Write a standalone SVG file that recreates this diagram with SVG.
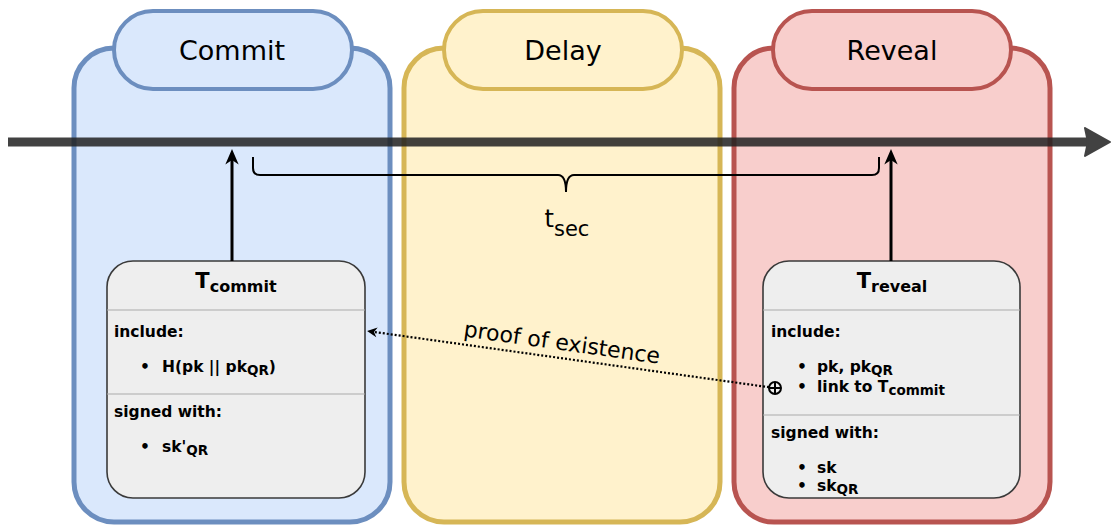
<svg xmlns="http://www.w3.org/2000/svg" width="1111" height="529" viewBox="0 0 1111 529">
  <style>
    text { font-family: "DejaVu Sans", Verdana, sans-serif; fill: #000; }
    .phase { stroke-width: 5; }
    .pill { stroke-width: 4; }
    .pillLabel { font-size: 27px; text-anchor: middle; }
    .box { fill: #eeeeee; stroke: #3a3a3a; stroke-width: 1.6; }
    .divider { stroke: #a9a9a9; stroke-width: 1.2; }
    .b { font-weight: bold; font-size: 15.5px; }
    .sub { font-size: 13.5px; }
    .title { font-weight: bold; font-size: 21px; text-anchor: middle; }
    .commit { fill: #dae8fc; stroke: #6c8ebf; }
    .delay { fill: #fff2cc; stroke: #d6b656; }
    .reveal { fill: #f8cecc; stroke: #b85450; }
  </style>
  <defs>
    <marker id="solidHead" markerUnits="userSpaceOnUse" markerWidth="20" markerHeight="20" viewBox="-16 -8 18 16" refX="-10" refY="0" orient="auto">
      <path d="M0,0 L-14,-6 L-10,0 L-14,6 Z" fill="#000"/>
    </marker>
    <marker id="dotHead" markerUnits="userSpaceOnUse" markerWidth="14" markerHeight="14" viewBox="-12 -6 14 12" refX="-8" refY="0" orient="auto">
      <path d="M0,0 L-10,-5 L-7,0 L-10,5 Z" fill="#000"/>
    </marker>
  </defs>

  <!-- phase: commit -->
  <g id="phase-commit">
    <rect class="phase commit" x="74" y="48" width="316" height="474" rx="40"/>
    <rect class="pill commit" x="114" y="11" width="238" height="78" rx="39"/>
    <text class="pillLabel" x="232" y="60">Commit</text>
  </g>

  <!-- phase: delay -->
  <g id="phase-delay">
    <rect class="phase delay" x="404" y="48" width="316" height="474" rx="40"/>
    <rect class="pill delay" x="444" y="11" width="238" height="78" rx="39"/>
    <text class="pillLabel" x="563" y="60">Delay</text>
  </g>

  <!-- phase: reveal -->
  <g id="phase-reveal">
    <rect class="phase reveal" x="734" y="48" width="316" height="474" rx="40"/>
    <rect class="pill reveal" x="773" y="11" width="238" height="78" rx="39"/>
    <text class="pillLabel" x="892" y="60">Reveal</text>
  </g>

  <!-- transaction T_commit -->
  <g id="tx-commit">
    <rect class="box" x="107" y="261" width="258" height="237" rx="26"/>
    <line class="divider" x1="107" y1="310" x2="365" y2="310"/>
    <line class="divider" x1="107" y1="394" x2="365" y2="394"/>
    <text class="title" x="236" y="288">T<tspan font-size="16px" dy="4">commit</tspan></text>
    <text class="b" x="114" y="337">include:</text>
    <text class="b" x="140" y="372">•</text>
    <text class="b" x="162" y="372">H(pk || pk<tspan class="sub" dy="3">QR</tspan><tspan dy="-3">)</tspan></text>
    <text class="b" x="114" y="417">signed with:</text>
    <text class="b" x="140" y="452">•</text>
    <text class="b" x="162" y="452">sk'<tspan class="sub" dy="3">QR</tspan></text>
  </g>

  <!-- transaction T_reveal -->
  <g id="tx-reveal">
    <rect class="box" x="763" y="261" width="257" height="237" rx="26"/>
    <line class="divider" x1="763" y1="310" x2="1020" y2="310"/>
    <line class="divider" x1="763" y1="415" x2="1020" y2="415"/>
    <text class="title" x="892" y="288">T<tspan font-size="16px" dy="4">reveal</tspan></text>
    <text class="b" x="771" y="337">include:</text>
    <text class="b" x="797" y="372">•</text>
    <text class="b" x="817" y="372">pk, pk<tspan class="sub" dy="3">QR</tspan></text>
    <text class="b" x="797" y="392">•</text>
    <text class="b" x="817" y="392">link to T<tspan class="sub" dy="3">commit</tspan></text>
    <text class="b" x="771" y="438">signed with:</text>
    <text class="b" x="797" y="473">•</text>
    <text class="b" x="817" y="473">sk</text>
    <text class="b" x="797" y="491">•</text>
    <text class="b" x="817" y="491">sk<tspan class="sub" dy="3">QR</tspan></text>
  </g>

  <!-- connectors -->
  <g id="connectors">
    <!-- timeline -->
    <g opacity="0.85">
      <line x1="8" y1="142" x2="1092" y2="142" stroke="#222" stroke-width="9"/>
      <path d="M1110,142 L1085,128 L1088,142 L1085,156 Z" fill="#222" stroke="#222" stroke-width="2" stroke-linejoin="round"/>
    </g>
    <!-- transactions anchored on the timeline -->
    <line x1="232" y1="261" x2="232" y2="160" stroke="#000" stroke-width="3" marker-end="url(#solidHead)"/>
    <line x1="891" y1="261" x2="891" y2="160" stroke="#000" stroke-width="3" marker-end="url(#solidHead)"/>
    <!-- security interval brace -->
    <path d="M253,157 L253,168 Q253,175 260,175 L558,175 Q566,175 566,192 Q566,175 574,175 L872,175 Q879,175 879,168 L879,157" fill="none" stroke="#000" stroke-width="2"/>
    <text x="567" y="227" font-size="24px" text-anchor="middle">t<tspan font-size="21px" dy="9">sec</tspan></text>
    <!-- proof of existence link -->
    <line x1="769" y1="387.2" x2="375" y2="332.1" stroke="#000" stroke-width="2.2" stroke-dasharray="2 2" marker-end="url(#dotHead)"/>
    <g fill="none" stroke="#000" stroke-width="2">
      <circle cx="775" cy="388" r="6"/>
      <line x1="769" y1="388" x2="781" y2="388"/>
      <line x1="775" y1="382" x2="775" y2="394"/>
    </g>
    <text x="561" y="350" font-size="22px" text-anchor="middle" transform="rotate(7.95 561 350)">proof of existence</text>
  </g>
</svg>
